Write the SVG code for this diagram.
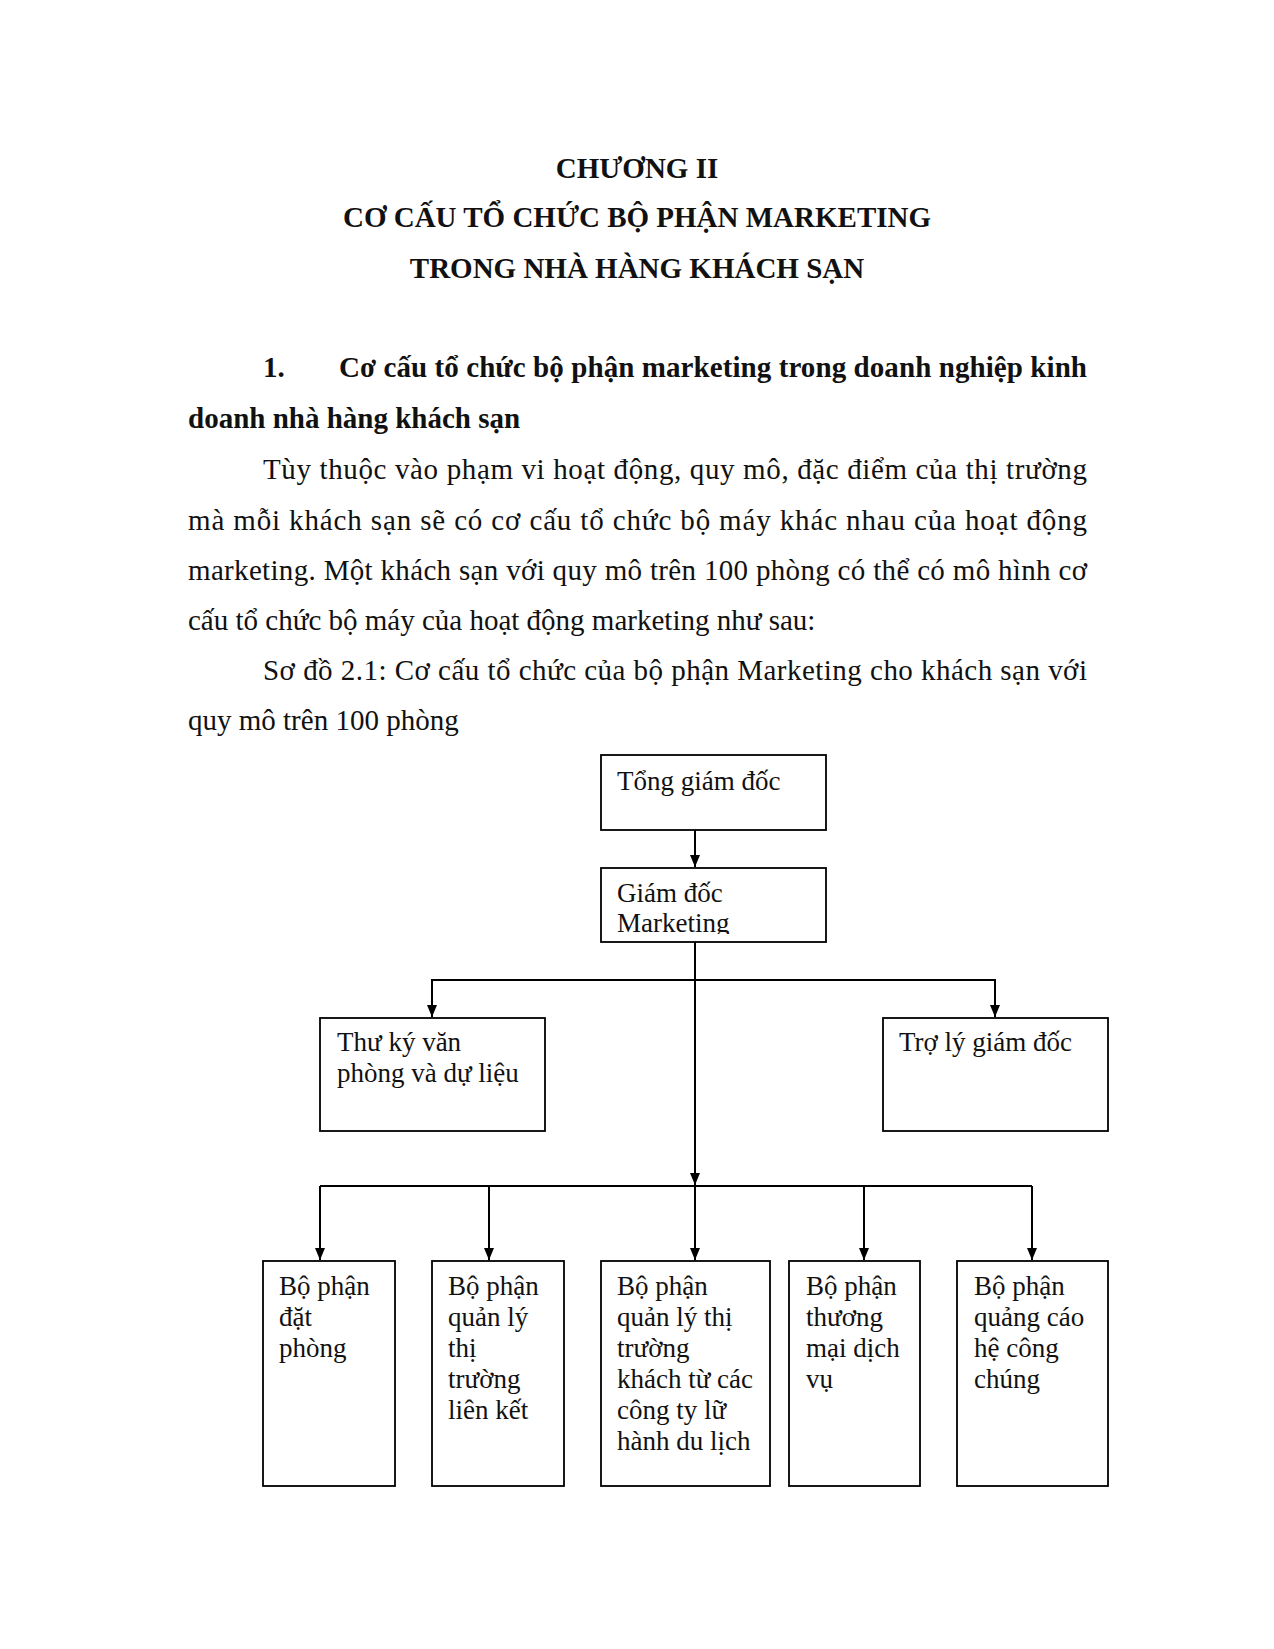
<svg xmlns="http://www.w3.org/2000/svg" width="1274" height="1649" viewBox="0 0 1274 1649">
<style>
  text { font-family: "Liberation Serif", "Times New Roman", serif; fill: #111; }
  .h { font-size: 29px; font-weight: bold; }
  .b { font-size: 29px; }
  .n { font-size: 27px; }
  .box { fill: #fff; stroke: #000; stroke-width: 1.8; }
  .ln { fill: none; stroke: #000; stroke-width: 2; }
</style>
<defs>
  <marker id="ah" viewBox="0 0 12 10" refX="12" refY="5" markerWidth="6" markerHeight="5" markerUnits="strokeWidth" orient="auto">
    <path d="M0,0 L12,5 L0,10 z" fill="#000"/>
  </marker>
  <clipPath id="clipGD"><rect x="601" y="868" width="226" height="66"/></clipPath>
</defs>
<rect width="1274" height="1649" fill="#fff"/>

<g id="title">
  <text class="h" x="637" y="178" text-anchor="middle">CHƯƠNG II</text>
  <text class="h" x="637" y="227" text-anchor="middle">CƠ CẤU TỔ CHỨC BỘ PHẬN MARKETING</text>
  <text class="h" x="637" y="278" text-anchor="middle">TRONG NHÀ HÀNG KHÁCH SẠN</text>
</g>

<g id="body">
  <text class="h" x="263" y="377">1.</text>
  <text class="h" x="339" y="377" textLength="748" lengthAdjust="spacing">Cơ cấu tổ chức bộ phận marketing trong doanh nghiệp kinh</text>
  <text class="h" x="188" y="428">doanh nhà hàng khách sạn</text>
  <text class="b" x="263" y="479" textLength="824" lengthAdjust="spacing">Tùy thuộc vào phạm vi hoạt động, quy mô, đặc điểm của thị trường</text>
  <text class="b" x="188" y="530" textLength="899" lengthAdjust="spacing">mà mỗi khách sạn sẽ có cơ cấu tổ chức bộ máy khác nhau của hoạt động</text>
  <text class="b" x="188" y="580" textLength="899" lengthAdjust="spacing">marketing. Một khách sạn với quy mô trên 100 phòng có thể có mô hình cơ</text>
  <text class="b" x="188" y="630">cấu tổ chức bộ máy của hoạt động marketing như sau:</text>
  <text class="b" x="263" y="680" textLength="824" lengthAdjust="spacing">Sơ đồ 2.1: Cơ cấu tổ chức của bộ phận Marketing cho khách sạn với</text>
  <text class="b" x="188" y="730">quy mô trên 100 phòng</text>
</g>

<g id="connectors">
  <line class="ln" x1="695" y1="830" x2="695" y2="867" marker-end="url(#ah)"/>
  <line class="ln" x1="695" y1="942" x2="695" y2="1185" marker-end="url(#ah)"/>
  <polyline class="ln" points="432,1017 432,980 995,980 995,1017"/>
  <line class="ln" x1="432" y1="980" x2="432" y2="1017" marker-end="url(#ah)"/>
  <line class="ln" x1="995" y1="980" x2="995" y2="1017" marker-end="url(#ah)"/>
  <line class="ln" x1="320" y1="1186" x2="1032" y2="1186"/>
  <line class="ln" x1="320" y1="1186" x2="320" y2="1260" marker-end="url(#ah)"/>
  <line class="ln" x1="489" y1="1186" x2="489" y2="1260" marker-end="url(#ah)"/>
  <line class="ln" x1="695" y1="1186" x2="695" y2="1260" marker-end="url(#ah)"/>
  <line class="ln" x1="864" y1="1186" x2="864" y2="1260" marker-end="url(#ah)"/>
  <line class="ln" x1="1032" y1="1186" x2="1032" y2="1260" marker-end="url(#ah)"/>
</g>

<g id="n-tong-giam-doc">
  <rect class="box" x="601" y="755" width="225" height="75"/>
  <text class="n" x="617" y="790">Tổng giám đốc</text>
</g>
<g id="n-giam-doc-marketing">
  <rect class="box" x="601" y="868" width="225" height="74"/>
  <g clip-path="url(#clipGD)">
    <text class="n" x="617" y="902">Giám đốc</text>
    <text class="n" x="617" y="932">Marketing</text>
  </g>
</g>
<g id="n-thu-ky">
  <rect class="box" x="320" y="1018" width="225" height="113"/>
  <text class="n" x="337" y="1051">Thư ký văn</text>
  <text class="n" x="337" y="1082">phòng và dự liệu</text>
</g>
<g id="n-tro-ly">
  <rect class="box" x="883" y="1018" width="225" height="113"/>
  <text class="n" x="899" y="1051">Trợ lý giám đốc</text>
</g>
<g id="n-dat-phong">
  <rect class="box" x="263" y="1261" width="132" height="225"/>
  <text class="n" x="279" y="1295">Bộ phận</text>
  <text class="n" x="279" y="1326">đặt</text>
  <text class="n" x="279" y="1357">phòng</text>
</g>
<g id="n-lien-ket">
  <rect class="box" x="432" y="1261" width="132" height="225"/>
  <text class="n" x="448" y="1295">Bộ phận</text>
  <text class="n" x="448" y="1326">quản lý</text>
  <text class="n" x="448" y="1357">thị</text>
  <text class="n" x="448" y="1388">trường</text>
  <text class="n" x="448" y="1419">liên kết</text>
</g>
<g id="n-lu-hanh">
  <rect class="box" x="601" y="1261" width="169" height="225"/>
  <text class="n" x="617" y="1295">Bộ phận</text>
  <text class="n" x="617" y="1326">quản lý thị</text>
  <text class="n" x="617" y="1357">trường</text>
  <text class="n" x="617" y="1388">khách từ các</text>
  <text class="n" x="617" y="1419">công ty lữ</text>
  <text class="n" x="617" y="1450">hành du lịch</text>
</g>
<g id="n-thuong-mai">
  <rect class="box" x="789" y="1261" width="131" height="225"/>
  <text class="n" x="806" y="1295">Bộ phận</text>
  <text class="n" x="806" y="1326">thương</text>
  <text class="n" x="806" y="1357">mại dịch</text>
  <text class="n" x="806" y="1388">vụ</text>
</g>
<g id="n-quang-cao">
  <rect class="box" x="957" y="1261" width="151" height="225"/>
  <text class="n" x="974" y="1295">Bộ phận</text>
  <text class="n" x="974" y="1326">quảng cáo</text>
  <text class="n" x="974" y="1357">hệ công</text>
  <text class="n" x="974" y="1388">chúng</text>
</g>
</svg>
